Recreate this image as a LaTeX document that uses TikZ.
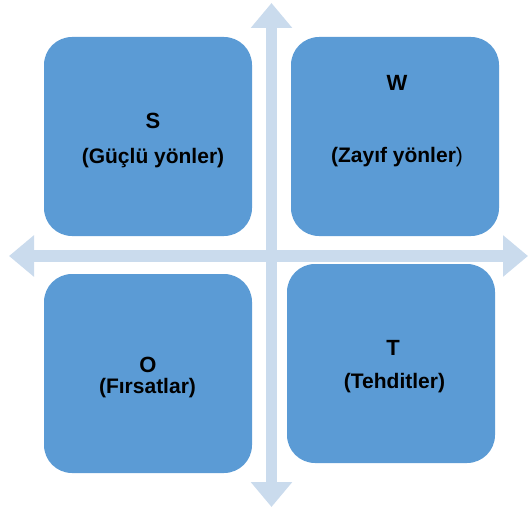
\documentclass[tikz,border=0pt]{standalone}
\usepackage{fontspec}
\setmainfont{Liberation Sans}
\usetikzlibrary{arrows.meta}
\definecolor{boxblue}{RGB}{91,155,213}
\definecolor{axisblue}{RGB}{202,219,237}
\begin{document}
\begin{tikzpicture}[x=1pt,y=-1pt,
  quad/.style={fill=boxblue,draw=none,rounded corners=28pt,
    minimum width=208pt,minimum height=199pt,inner sep=0pt},
  title/.style={font=\fontsize{22}{24}\selectfont\bfseries,anchor=base},
  subtitle/.style={font=\fontsize{21}{23}\selectfont\bfseries,anchor=base},
  axis/.style={draw=axisblue,line width=11.5pt,
    {Triangle[width=40pt,length=25pt]}-{Triangle[width=40pt,length=25pt]}}]
\useasboundingbox (0,0) rectangle (529,511);

% axes
\coordinate (top) at (271.5,3);
\coordinate (bottom) at (271.5,507);
\coordinate (left) at (9,256);
\coordinate (right) at (528,256);
\draw[axis] (top) -- (bottom);
\draw[axis] (left) -- (right);

% quadrants
\node[quad] (s) at (148,136.5) {};
\node[quad] (w) at (395,136.5) {};
\node[quad] (o) at (148,373.5) {};
\node[quad] (t) at (391,363.5) {};

% labels
\node[title] (sl) at (153,128) {S};
\node[subtitle] (ss) at (153,163) {(Güçlü yönler)};
\node[title] (wl) at (397,90) {W};
\node[subtitle] (ws) at (397,162) {(Zayıf yönler{\mdseries)}};
\node[title] (ol) at (148,372) {O};
\node[subtitle] (os) at (147.5,393) {(Fırsatlar)};
\node[title] (tl) at (393,355) {T};
\node[subtitle] (ts) at (394.5,388) {(Tehditler)};
\end{tikzpicture}
\end{document}
